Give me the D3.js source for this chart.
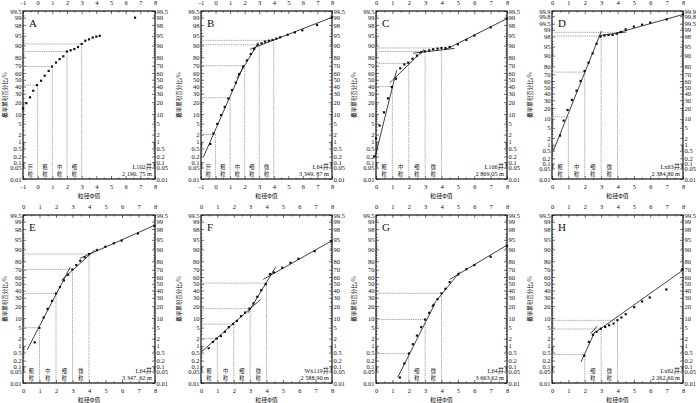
<!DOCTYPE html>
<html>
<head>
<meta charset="utf-8">
<script src="https://cdn.jsdelivr.net/npm/d3@7"></script>
<style>
  body { margin: 0; background: #fff; }
  svg { display: block; }
  text { font-family: "Liberation Serif", "Noto Sans CJK SC", serif; fill: #111; }
  .cjk { font-family: "Noto Sans CJK SC", sans-serif; }
</style>
</head>
<body>
<svg id="chart" width="700" height="403"></svg>
<script>
// y tick labels (cumulative percent, probability scale)
const yTicks = [0.01, 0.05, 0.1, 0.2, 0.5, 1, 2, 5, 10, 20, 30, 40, 50, 60, 70, 80, 90, 95, 98, 99, 99.5];
const yTicksD = [0.01, 0.05, 0.1, 0.2, 0.5, 1, 2, 5, 10, 20, 30, 40, 50, 60, 70, 80, 90, 95, 98, 99, 99.5, 99.8, 99.9];
const yMinor = [0.06, 0.07, 0.08, 0.09, 0.3, 0.4, 0.6, 0.7, 0.8, 0.9, 3, 4, 6, 7, 8, 9,
  12, 14, 16, 18, 25, 35, 45, 55, 65, 75, 82, 84, 86, 88, 91, 92, 93, 94, 96, 97, 99.2];

const grainNames = ["巨粒", "粗粒", "中粒", "细粒", "微粒"];
const grainMid = [-0.5, 0.5, 1.5, 2.5, 3.5];

// panel A  L102井
const ptsA = [[-1, 14], [-0.77, 19], [-0.52, 25.5], [-0.3, 34], [-0.05, 42], [0.23, 48.5], [0.48, 56],
  [0.75, 63], [0.98, 69], [1.25, 74], [1.5, 78], [1.75, 81], [2, 85.5], [2.25, 86.5], [2.5, 87.5],
  [2.75, 89], [3, 91], [3.25, 92.8], [3.5, 93.5], [3.75, 94.3], [4, 94.7], [4.23, 95], [6.64, 99]];
const segA = [];
const cutA = [[0, 42], [1, 69], [2, 85.5], [3, 91]];

// panel B  L64井 3349.87
const ptsB = [[-0.36, 0.8], [-0.15, 2.2], [0.12, 4.9], [0.38, 9.3], [0.63, 15.4], [0.88, 24], [1.13, 35],
  [1.39, 45.6], [1.62, 58.5], [1.89, 68.8], [2.15, 76.6], [2.42, 83.3], [2.65, 87.5], [2.9, 90.6],
  [3.16, 91.4], [3.4, 92.3], [3.66, 92.8], [3.91, 93.2], [4.17, 93.8], [4.44, 94.4], [4.95, 95.4],
  [5.45, 96.2], [5.96, 96.8], [6.97, 98], [8, 99.03]];
const segB = [[[-0.82, 0.2], [1.95, 71]], [[1.46, 52], [2.95, 91.8]], [[2.37, 87.3], [8, 99.03]]];
const cutB = [[0, 2], [1, 25], [2, 70], [3, 90.5], [4, 93]];

// panel C  L106井
const ptsC = [[-0.1, 0.2], [0, 1.4], [0.22, 4.3], [0.49, 11.1], [0.73, 24.3], [0.97, 39.3], [1.22, 51.6],
  [1.48, 66.6], [1.73, 71.8], [1.97, 73.9], [2.23, 78.5], [2.5, 81.6], [2.74, 84.8], [2.98, 85.7],
  [3.25, 86.5], [3.49, 87.3], [3.76, 87.8], [4, 88.3], [4.24, 88.3], [4.5, 89], [5, 90.8],
  [5.52, 93.2], [6.01, 95.1], [7, 97.5], [8, 98.9]];
const segC = [[[-0.05, 0.2], [1.26, 64]], [[0.85, 45.6], [2.94, 87.3]], [[2.27, 84], [4.8, 88]], [[4.2, 86.8], [8, 98.9]]];
const cutC = [[1, 40], [2, 73], [3, 85.5], [4, 88.3]];

// panel D  Lx63井
const ptsD = [[0.49, 2.5], [0.71, 8.8], [0.95, 17.8], [1.22, 30.3], [1.5, 44.5], [1.75, 60], [1.99, 74.5],
  [2.23, 84], [2.48, 91.5], [2.72, 96.1], [2.96, 98], [3.2, 98.2], [3.45, 98.3], [3.7, 98.3],
  [3.95, 98.5], [4.2, 98.75], [4.5, 99.05], [5, 99.3], [5.5, 99.44], [6, 99.56], [7, 99.7], [8, 99.84]];
const segD = [[[0.08, 0.49], [3.02, 98.87]], [[2.92, 98.2], [4.55, 98.75]], [[3.94, 98.6], [8, 99.84]]];
const cutD = [[1, 11.5], [2, 73], [3, 98.1], [4, 98.7]];

// panel E  L64井 3347.62
const ptsE = [[0.71, 1.4], [0.99, 4.9], [1.25, 10.3], [1.49, 17.3], [1.76, 26], [2, 35.8], [2.24, 45],
  [2.48, 54.9], [2.73, 63.2], [2.99, 70.4], [3.23, 75.8], [3.47, 80.5], [3.74, 84], [4, 86.7],
  [4.48, 89.7], [4.99, 91.7], [5.5, 93.5], [5.98, 94.7], [6.97, 97], [7.96, 98.5]];
const segE = [[[0.26, 0.68], [2.85, 72.9]], [[2.34, 55.4], [4.36, 89.7]], [[3.45, 82.9], [8, 98.6]]];
const cutE = [[1, 5], [2, 35.8], [3, 70.5], [4, 86.7]];

// panel F  Wx119井
const ptsF = [[0.47, 0.78], [0.73, 1.46], [0.95, 2], [1.21, 2.5], [1.46, 3.6], [1.7, 5.2], [1.96, 6.6],
  [2.19, 8.2], [2.45, 11.2], [2.69, 14], [2.96, 17.7], [3.2, 23], [3.44, 31.2], [3.68, 40.5],
  [3.95, 49.4], [4.21, 64], [4.45, 66.4], [4.96, 72.6], [5.47, 78.4], [5.95, 82.5], [6.94, 88.9], [7.96, 94.4]];
const segF = [[[0.06, 0.57], [3.64, 27.8]], [[2.87, 13.8], [4.57, 73.8]], [[3.8, 56.4], [8, 94.7]]];
const cutF = [[1, 2], [2, 6.5], [3, 17.5], [4, 51]];

// panel G  L64井 3663.62
const ptsG = [[1.46, 0.022], [1.73, 0.14], [2.01, 0.45], [2.25, 1.17], [2.5, 2.6], [2.76, 5.2], [3, 9],
  [3.25, 13.8], [3.49, 20.7], [3.76, 28.2], [4, 36], [4.24, 42.5], [4.5, 52.4], [5.02, 63.6],
  [5.52, 70.8], [6.01, 75.8], [7, 84.4], [8, 92.1]];
const segG = [[[1.32, 0.022], [3.6, 23]], [[3.39, 19.3], [5.12, 67.3]], [[4.5, 56.4], [8, 92.6]]];
const cutG = [[2, 0.45], [3, 9], [4, 36]];

// panel H  Lx62井
const ptsH = [[1.97, 0.35], [2.25, 1.46], [2.5, 2.8], [2.72, 3.6], [2.98, 4.6], [3.25, 5.3], [3.49, 6],
  [3.76, 6.8], [4, 8.6], [4.24, 10.3], [4.5, 12.7], [5.02, 19], [5.5, 25.3], [5.97, 30.3],
  [6.98, 41.5], [7.96, 70.8]];
const segH = [[[1.77, 0.17], [2.62, 3.6]], [[2.36, 3.1], [2.76, 5.6]], [[2.7, 3.6], [8, 69.5]]];
const cutH = [[2, 0.4], [3, 4.5], [4, 8.5]];

const panels = [
  { id: "A", col: 0, row: 0, dom: [-1, 8], ticks: yTicks, pts: ptsA, segs: segA, cuts: cutA, grains: [0, 1, 2, 3], well: "L102井", depth: "2 190. 75 m" },
  { id: "B", col: 1, row: 0, dom: [-1, 8], ticks: yTicks, pts: ptsB, segs: segB, cuts: cutB, grains: [0, 1, 2, 3, 4], well: "L64井", depth: "3 349. 87 m" },
  { id: "C", col: 2, row: 0, dom: [0, 8], ticks: yTicks, pts: ptsC, segs: segC, cuts: cutC, grains: [1, 2, 3, 4], well: "L106井", depth: "2 869.05 m" },
  { id: "D", col: 3, row: 0, dom: [0, 8], ticks: yTicksD, pts: ptsD, segs: segD, cuts: cutD, grains: [1, 2, 3, 4], well: "Lx63井", depth: "2 384.80 m" },
  { id: "E", col: 0, row: 1, dom: [0, 8], ticks: yTicks, pts: ptsE, segs: segE, cuts: cutE, grains: [1, 2, 3, 4], well: "L64井", depth: "3 347. 62 m" },
  { id: "F", col: 1, row: 1, dom: [0, 8], ticks: yTicks, pts: ptsF, segs: segF, cuts: cutF, grains: [1, 2, 3, 4], well: "Wx119井", depth: "2 588.90 m" },
  { id: "G", col: 2, row: 1, dom: [0, 8], ticks: yTicks, pts: ptsG, segs: segG, cuts: cutG, grains: [3, 4], well: "L64井", depth: "3 663.62 m" },
  { id: "H", col: 3, row: 1, dom: [0, 8], ticks: yTicks, pts: ptsH, segs: segH, cuts: cutH, grains: [3, 4], well: "Lx62井", depth: "2 262.60 m" }
];

// frame positions
const colX = [[23, 155], [201, 332], [376, 507], [552, 683]];
const rowY = [[11, 179], [215, 383]];
const titleX = [5, 179, 354, 530];

// inverse normal cdf (Acklam), p in percent
function probit(p) {
  const q = p / 100;
  const a = [-3.969683028665376e+01, 2.209460984245205e+02, -2.759285104469687e+02, 1.383577518672690e+02, -3.066479806614716e+01, 2.506628277459239e+00];
  const b = [-5.447609879822406e+01, 1.615858368580409e+02, -1.556989798598866e+02, 6.680131188771972e+01, -1.328068155288572e+01];
  const c = [-7.784894002430293e-03, -3.223964580411365e-01, -2.400758277161838e+00, -2.549671010115584e+00, 4.374664141464968e+00, 2.938163982698783e+00];
  const d = [7.784695709041462e-03, 3.224671290700398e-01, 2.445134137142996e+00, 3.754408661907416e+00];
  const pl = 0.02425;
  if (q < pl) {
    const r = Math.sqrt(-2 * Math.log(q));
    return (((((c[0] * r + c[1]) * r + c[2]) * r + c[3]) * r + c[4]) * r + c[5]) / ((((d[0] * r + d[1]) * r + d[2]) * r + d[3]) * r + 1);
  }
  if (q > 1 - pl) {
    const r = Math.sqrt(-2 * Math.log(1 - q));
    return -(((((c[0] * r + c[1]) * r + c[2]) * r + c[3]) * r + c[4]) * r + c[5]) / ((((d[0] * r + d[1]) * r + d[2]) * r + d[3]) * r + 1);
  }
  const r = q - 0.5, s = r * r;
  return (((((a[0] * s + a[1]) * s + a[2]) * s + a[3]) * s + a[4]) * s + a[5]) * r / (((((b[0] * s + b[1]) * s + b[2]) * s + b[3]) * s + b[4]) * s + 1);
}

const svg = d3.select("#chart");

function styleAxis(g) {
  g.select(".domain").remove();
  g.selectAll(".tick line").attr("stroke", "#111").attr("stroke-width", 0.6);
  g.selectAll("text").attr("font-size", 6.5).attr("fill", "#111").style("font-family", "Liberation Serif, serif");
}

function drawPanel(P) {
  const [x0, x1] = colX[P.col];
  const [y0, y1] = rowY[P.row];
  const ticks = P.ticks;
  const g = svg.append("g");

  const x = d3.scaleLinear().domain(P.dom).range([x0, x1]);
  const yz = d3.scaleLinear().domain([probit(ticks[0]), probit(ticks[ticks.length - 1])]).range([y1, y0]);
  const y = p => yz(probit(p));

  const xMaj = d3.range(P.dom[0], P.dom[1] + 1);
  const xMin = d3.range(P.dom[0] + 0.5, P.dom[1], 1);
  const minor = yMinor.filter(v => v > ticks[0] && v < ticks[ticks.length - 1]);

  // x axes, ticks pointing inward
  g.append("g").attr("transform", `translate(0,${y1})`)
    .call(d3.axisBottom(x).tickValues(xMaj).tickSize(-3).tickPadding(5).tickFormat(d => String(d)))
    .call(styleAxis);
  g.append("g").attr("transform", `translate(0,${y1})`)
    .call(d3.axisBottom(x).tickValues(xMin).tickSize(-1.5).tickFormat(""))
    .call(styleAxis);
  g.append("g").attr("transform", `translate(0,${y0})`)
    .call(d3.axisTop(x).tickValues(xMaj).tickSize(-3).tickPadding(6).tickFormat(d => String(d)))
    .call(styleAxis);
  g.append("g").attr("transform", `translate(0,${y0})`)
    .call(d3.axisTop(x).tickValues(xMin).tickSize(-1.5).tickFormat(""))
    .call(styleAxis);

  // y axes on the probability scale
  const tz = ticks.map(probit);
  g.append("g").attr("transform", `translate(${x0},0)`)
    .call(d3.axisLeft(yz).tickValues(tz).tickSize(-3).tickPadding(1.5).tickFormat((d, i) => String(ticks[i])))
    .call(styleAxis);
  g.append("g").attr("transform", `translate(${x0},0)`)
    .call(d3.axisLeft(yz).tickValues(minor.map(probit)).tickSize(-1.5).tickFormat(""))
    .call(styleAxis);
  g.append("g").attr("transform", `translate(${x1},0)`)
    .call(d3.axisRight(yz).tickValues(tz).tickSize(-3).tickPadding(1.5).tickFormat((d, i) => String(ticks[i])))
    .call(styleAxis);
  g.append("g").attr("transform", `translate(${x1},0)`)
    .call(d3.axisRight(yz).tickValues(minor.map(probit)).tickSize(-1.5).tickFormat(""))
    .call(styleAxis);

  // frame
  g.append("rect").attr("x", x0).attr("y", y0).attr("width", x1 - x0).attr("height", y1 - y0)
    .attr("fill", "none").attr("stroke", "#111").attr("stroke-width", 1.2);

  // class boundary guide lines
  const guides = g.append("g").attr("stroke", "#8a8a8a").attr("stroke-width", 0.7).attr("stroke-dasharray", "1.5,0.8");
  P.cuts.forEach(([phi, p]) => {
    guides.append("line").attr("x1", x0).attr("x2", x(phi)).attr("y1", y(p)).attr("y2", y(p));
    guides.append("line").attr("x1", x(phi)).attr("x2", x(phi)).attr("y1", y(p)).attr("y2", y1);
  });

  // fitted segments
  g.append("g").selectAll("line").data(P.segs).join("line")
    .attr("x1", d => x(d[0][0])).attr("y1", d => y(d[0][1]))
    .attr("x2", d => x(d[1][0])).attr("y2", d => y(d[1][1]))
    .attr("stroke", "#111").attr("stroke-width", 0.8);

  // sample points
  g.append("g").selectAll("rect").data(P.pts).join("rect")
    .attr("x", d => x(d[0]) - 1.1).attr("y", d => y(d[1]) - 1.1)
    .attr("width", 2.2).attr("height", 2.2).attr("fill", "#111");

  // grain class labels, two characters stacked
  P.grains.forEach(k => {
    const t = g.append("text").attr("class", "cjk").attr("font-size", 5.2).attr("text-anchor", "middle");
    t.append("tspan").attr("x", x(grainMid[k])).attr("y", y1 - 10.3).text(grainNames[k][0]);
    t.append("tspan").attr("x", x(grainMid[k])).attr("y", y1 - 3.5).text(grainNames[k][1]);
  });

  // panel letter
  g.append("text").attr("x", x0 + 6).attr("y", y0 + 16).attr("font-size", 11).text(P.id);

  // well and depth
  g.append("text").attr("x", x1 - 3).attr("y", y1 - 10.5).attr("font-size", 6.3).attr("text-anchor", "end").text(P.well);
  g.append("text").attr("x", x1 - 3).attr("y", y1 - 3).attr("font-size", 6.3).attr("text-anchor", "end").text(P.depth);

  // axis titles
  const cx = (x0 + x1) / 2;
  g.append("text").attr("class", "cjk").attr("x", cx).attr("y", y1 + 18.5).attr("font-size", 6)
    .attr("text-anchor", "middle").text("粒径φ值");
  g.append("text").attr("class", "cjk").attr("font-size", 5.5).attr("text-anchor", "middle")
    .attr("transform", `translate(${titleX[P.col] + 2},${(y0 + y1) / 2}) rotate(-90)`)
    .text("概率累积百分比/%");
}

panels.forEach(drawPanel);
</script>
</body>
</html>
